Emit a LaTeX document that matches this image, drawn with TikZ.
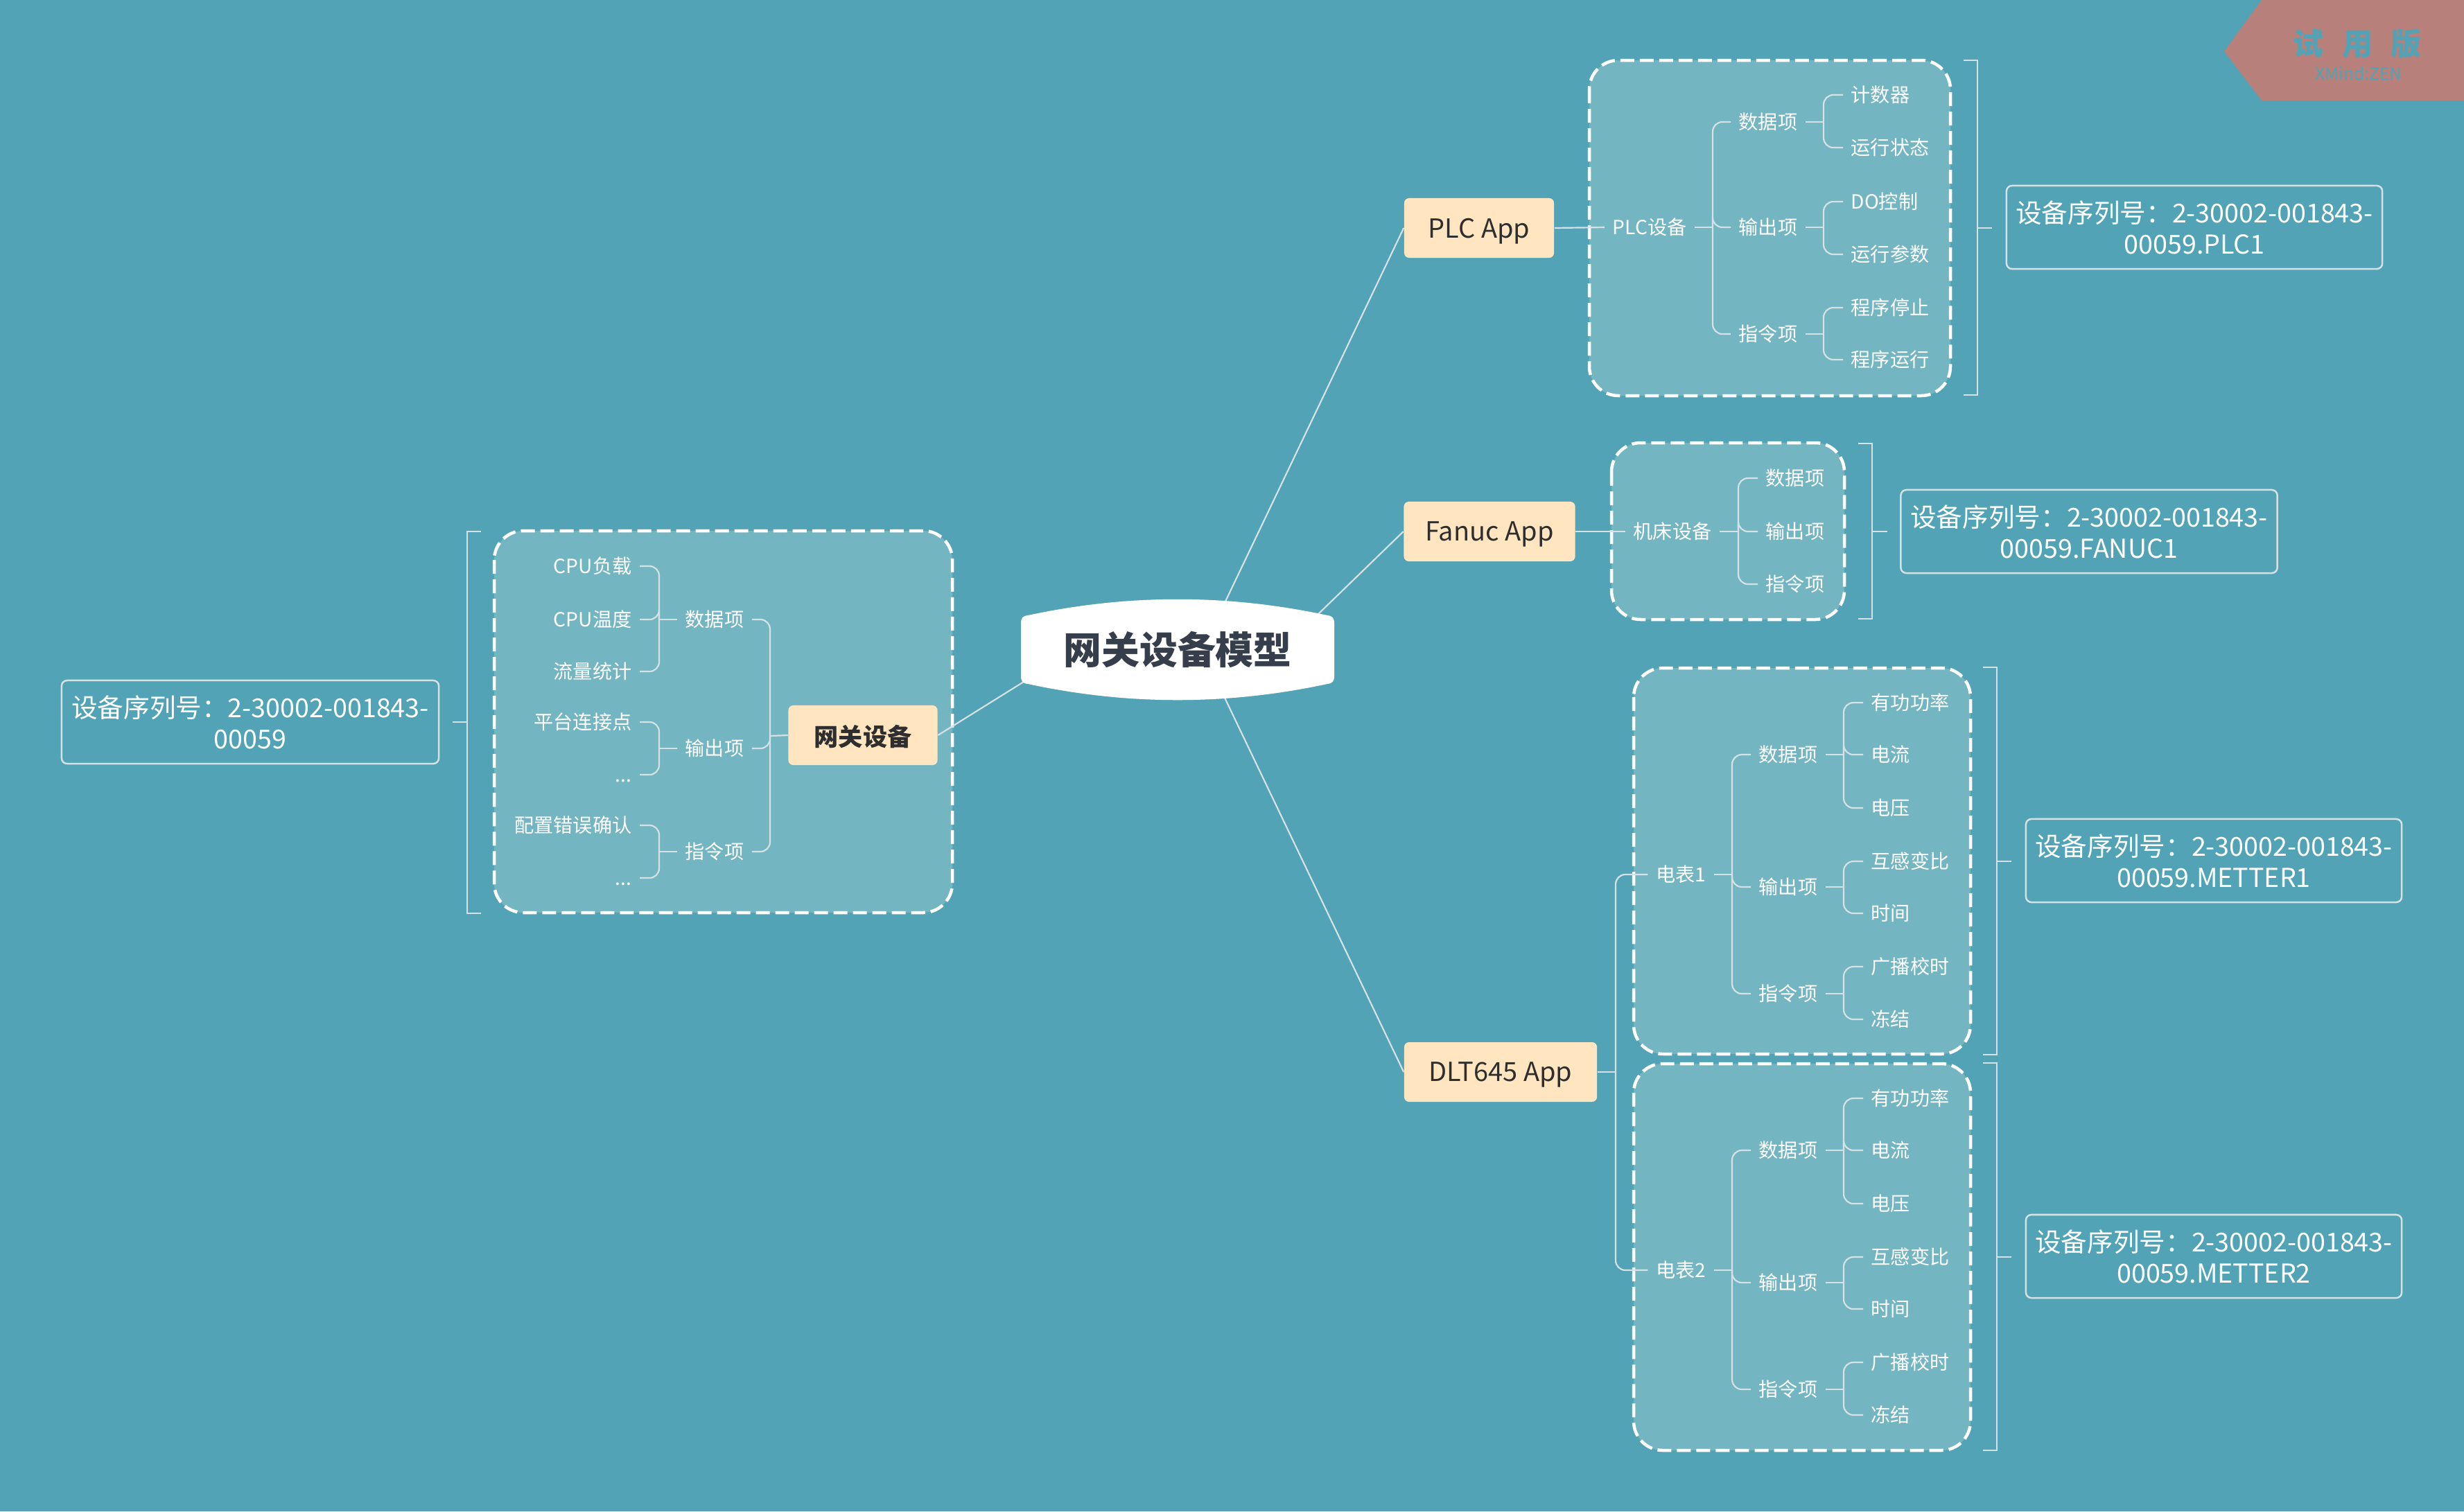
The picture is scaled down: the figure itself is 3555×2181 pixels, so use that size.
\documentclass[tikz,border=0pt]{standalone}
\usepackage{fontspec}
\setmainfont{Noto Sans CJK SC}
\definecolor{bg}{HTML}{52A3B5}
\definecolor{boxfill}{HTML}{74B5C2}
\definecolor{appfill}{HTML}{FFE6C0}
\definecolor{apptext}{HTML}{2E2E2E}
\definecolor{roottext}{HTML}{353E4A}
\definecolor{linec}{HTML}{D5E1E4}
\definecolor{wmark}{HTML}{B8807A}
\tikzset{
  lbl/.style={text=white, font=\fontsize{8}{9.6}\selectfont, inner xsep=0.11cm, inner ysep=0.02cm},
  conn/.style={draw=linec, line width=0.022cm, rounded corners=0.14cm},
  app/.style={fill=appfill, rounded corners=0.07cm, text=apptext, font=\fontsize{10.8}{13}\selectfont, minimum height=0.86cm, inner sep=0, text depth=0pt},
  dbox/.style={draw=white, fill=boxfill, line width=0.045cm, dash pattern=on 0.2cm off 0.08cm, rounded corners=0.42cm},
  brk/.style={draw=linec, line width=0.022cm},
  sumbox/.style={draw=linec, line width=0.025cm, rounded corners=0.08cm, text=white, align=center, font=\fontsize{10.7}{12.8}\selectfont, minimum width=5.42cm, minimum height=1.2cm, inner sep=0},
}
\begin{document}
\begin{tikzpicture}[x=0.01cm,y=-0.01cm]
\fill[bg] (0,0) rectangle (3555,2181);
\useasboundingbox (0,0) rectangle (3555,2181);

% watermark
\fill[wmark] (3263,0) -- (3555,0) -- (3555,145) -- (3263,145) -- (3209,74) -- cycle;
\node[text=bg, font=\bfseries\fontsize{12.5}{14}\selectfont, inner sep=0] (wm1) at (3401,63) {试\hspace{0.6em}用\hspace{0.6em}版};
\node[text=bg, font=\fontsize{7}{8}\selectfont, inner sep=0] (wm2) at (3403,106) {XMind:ZEN};

% dashed boxes
\path[dbox] (713,766) rectangle (1374,1317);
\path[dbox] (2293,87) rectangle (2814,571);
\path[dbox] (2325,639) rectangle (2661,894);
\path[dbox] (2357,964) rectangle (2843,1521);
\path[dbox] (2357,1535) rectangle (2843,2093);

% ---------- left: gateway ----------
\node[app, font=\bfseries\fontsize{10}{12}\selectfont, minimum width=2.15cm] (gw) at (1245,1061) {网关设备};
\node[lbl] (ldata) at (1031,894) {数据项};
\node[lbl] (lout) at (1031,1080) {输出项};
\node[lbl] (lcmd) at (1031,1229) {指令项};
\node[lbl, anchor=east] (lcpu1) at (923,817) {CPU负载};
\node[lbl, anchor=east] (lcpu2) at (923,894) {CPU温度};
\node[lbl, anchor=east] (lflow) at (923,969) {流量统计};
\node[lbl, anchor=east] (lplat) at (923,1042) {平台连接点};
\node[lbl, anchor=east] (ldots1) at (923,1118) {\vphantom{项}...};
\node[lbl, anchor=east] (lcfg) at (923,1191) {配置错误确认};
\node[lbl, anchor=east] (ldots2) at (923,1267) {\vphantom{项}...};

\coordinate (jg) at (1111,1062);
\draw[conn] (gw.west) -- (jg);
\foreach \c in {ldata,lout,lcmd} \draw[conn] (jg) |- (\c.east);
\coordinate (jld) at (951,894);
\draw[conn] (ldata.west) -- (jld);
\foreach \c in {lcpu1,lcpu2,lflow} \draw[conn] (jld) |- (\c.east);
\coordinate (jlo) at (951,1080);
\draw[conn] (lout.west) -- (jlo);
\foreach \c in {lplat,ldots1} \draw[conn] (jlo) |- (\c.east);
\coordinate (jlc) at (951,1229);
\draw[conn] (lcmd.west) -- (jlc);
\foreach \c in {lcfg,ldots2} \draw[conn] (jlc) |- (\c.east);

% left summary
\node[sumbox, minimum width=5.44cm] (sG) at (361,1042) {设备序列号：2-30002-001843-\\00059};
\draw[brk] (694,767) -- (674,767) -- (674,1318) -- (694,1318);
\draw[brk] (674,1042) -- (653,1042);

% ---------- PLC ----------
\node[app, minimum width=2.16cm] (plc) at (2134,329) {PLC App};
\node[lbl] (plcdev) at (2380,328) {PLC设备};
\node[lbl] (pdata) at (2551,176) {数据项};
\node[lbl] (pout) at (2551,328) {输出项};
\node[lbl] (pcmd) at (2551,482) {指令项};
\node[lbl, anchor=west] (p1) at (2659,137) {计数器};
\node[lbl, anchor=west] (p2) at (2659,213) {运行状态};
\node[lbl, anchor=west] (p3) at (2659,291) {DO控制};
\node[lbl, anchor=west] (p4) at (2659,367) {运行参数};
\node[lbl, anchor=west] (p5) at (2659,444) {程序停止};
\node[lbl, anchor=west] (p6) at (2659,519) {程序运行};
\draw[conn] (plc.east) -- (plcdev.west);
\coordinate (jp) at (2471,328);
\draw[conn] (plcdev.east) -- (jp);
\foreach \c in {pdata,pout,pcmd} \draw[conn] (jp) |- (\c.west);
\coordinate (jpd) at (2631,176);
\draw[conn] (pdata.east) -- (jpd);
\foreach \c in {p1,p2} \draw[conn] (jpd) |- (\c.west);
\coordinate (jpo) at (2631,328);
\draw[conn] (pout.east) -- (jpo);
\foreach \c in {p3,p4} \draw[conn] (jpo) |- (\c.west);
\coordinate (jpc) at (2631,482);
\draw[conn] (pcmd.east) -- (jpc);
\foreach \c in {p5,p6} \draw[conn] (jpc) |- (\c.west);
\draw[brk] (2833,87) -- (2853,87) -- (2853,570) -- (2833,570);
\draw[brk] (2853,329) -- (2874,329);
\node[sumbox] (sP) at (3166,328) {设备序列号：2-30002-001843-\\00059.PLC1};

% ---------- Fanuc ----------
\node[app, minimum width=2.47cm] (fanuc) at (2149,767) {Fanuc App};
\node[lbl] (fdev) at (2413,767) {机床设备};
\node[lbl, anchor=west] (fdata) at (2536,690) {数据项};
\node[lbl, anchor=west] (fout) at (2536,767) {输出项};
\node[lbl, anchor=west] (fcmd) at (2536,843) {指令项};
\draw[conn] (fanuc.east) -- (fdev.west);
\coordinate (jf) at (2508,767);
\draw[conn] (fdev.east) -- (jf);
\foreach \c in {fdata,fout,fcmd} \draw[conn] (jf) |- (\c.west);
\draw[brk] (2681,640) -- (2701,640) -- (2701,893) -- (2681,893);
\draw[brk] (2701,767) -- (2723,767);
\node[sumbox, minimum width=5.43cm] (sF) at (3014,767) {设备序列号：2-30002-001843-\\00059.FANUC1};

% ---------- DLT645 ----------
\node[app, minimum width=2.78cm] (dlt) at (2165,1547) {DLT645 App};
\coordinate (jd) at (2331,1547);
\draw[conn] (dlt.east) -- (jd);
\foreach \o/\n/\k in {0/m1/1, 571/m2/2}{
  \node[lbl] (\n) at (2425,1262+\o) {电表\k};
  \node[lbl] (\n d) at (2580,1089+\o) {数据项};
  \node[lbl] (\n o) at (2580,1280+\o) {输出项};
  \node[lbl] (\n c) at (2580,1434+\o) {指令项};
  \node[lbl, anchor=west] (\n l1) at (2688,1014+\o) {有功功率};
  \node[lbl, anchor=west] (\n l2) at (2688,1089+\o) {电流};
  \node[lbl, anchor=west] (\n l3) at (2688,1166+\o) {电压};
  \node[lbl, anchor=west] (\n l4) at (2688,1243+\o) {互感变比};
  \node[lbl, anchor=west] (\n l5) at (2688,1318+\o) {时间};
  \node[lbl, anchor=west] (\n l6) at (2688,1395+\o) {广播校时};
  \node[lbl, anchor=west] (\n l7) at (2688,1471+\o) {冻结};
  \draw[conn] (jd) |- (\n.west);
  \coordinate (\n j) at (2499,1262+\o);
  \draw[conn] (\n.east) -- (\n j);
  \draw[conn] (\n j) |- (\n d.west);
  \draw[conn] (\n j) |- (\n o.west);
  \draw[conn] (\n j) |- (\n c.west);
  \coordinate (\n jd) at (2660,1089+\o);
  \draw[conn] (\n d.east) -- (\n jd);
  \draw[conn] (\n jd) |- (\n l1.west);
  \draw[conn] (\n jd) |- (\n l2.west);
  \draw[conn] (\n jd) |- (\n l3.west);
  \coordinate (\n jo) at (2660,1280+\o);
  \draw[conn] (\n o.east) -- (\n jo);
  \draw[conn] (\n jo) |- (\n l4.west);
  \draw[conn] (\n jo) |- (\n l5.west);
  \coordinate (\n jc) at (2660,1434+\o);
  \draw[conn] (\n c.east) -- (\n jc);
  \draw[conn] (\n jc) |- (\n l6.west);
  \draw[conn] (\n jc) |- (\n l7.west);
  \draw[brk] (2861,963+\o) -- (2881,963+\o) -- (2881,1522+\o) -- (2861,1522+\o);
  \draw[brk] (2881,1243+\o) -- (2902,1243+\o);
}
\node[sumbox] (sM1) at (3194,1242) {设备序列号：2-30002-001843-\\00059.METTER1};
\node[sumbox] (sM2) at (3194,1813) {设备序列号：2-30002-001843-\\00059.METTER2};

% ---------- root ----------
\coordinate (rP) at (1766,872);
\coordinate (rF) at (1900,888);
\coordinate (rD) at (1766,1005);
\coordinate (rG) at (1480,982);
\draw[conn] (rP) -- (plc.west);
\draw[conn] (rF) -- (fanuc.west);
\draw[conn] (rD) -- (dlt.west);
\draw[conn] (rG) -- (gw.east);
\fill[white] (1483,888) .. controls (1627,857) and (1771,857) .. (1915,888)
  .. controls (1923,889) and (1925,892) .. (1925,900) -- (1925,975)
  .. controls (1925,983) and (1923,986) .. (1915,987)
  .. controls (1771,1018) and (1627,1018) .. (1483,987)
  .. controls (1475,986) and (1473,983) .. (1473,975) -- (1473,900)
  .. controls (1473,892) and (1475,889) .. (1483,888) -- cycle;
\node[text=roottext, font=\bfseries\fontsize{15.6}{18}\selectfont, inner sep=0] (root) at (1699,937) {网关设备模型};
\end{tikzpicture}
\end{document}
